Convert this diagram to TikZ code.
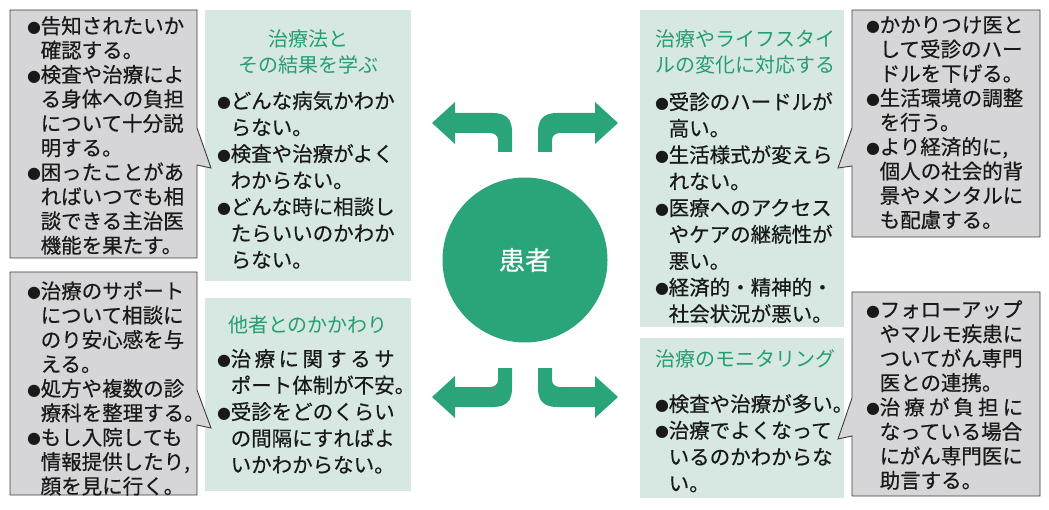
\documentclass[tikz,border=0pt]{standalone}
\usepackage{fontspec}
\newfontfamily\jpf{Noto Sans CJK JP}
\newfontfamily\jpb{Noto Sans CJK JP}[FakeBold=0.5]
\newfontfamily\symf{DejaVu Sans}
\definecolor{pgreen}{RGB}{42,165,122}
\definecolor{ttlgreen}{RGB}{36,158,110}
\definecolor{boxgreen}{RGB}{214,232,225}
\definecolor{boxgray}{RGB}{214,214,216}
\definecolor{edgegray}{RGB}{60,60,60}
\definecolor{txtblack}{RGB}{25,25,25}
\newcommand\bul{\makebox[13.5pt][l]{\raisebox{1.2pt}{\symf\fontsize{16}{16}\selectfont ●}}}
\newcommand\ind{\hphantom{\bul}}
\tikzset{
  greenbox/.style={fill=boxgreen, draw=none},
  graybox/.style={fill=boxgray, draw=edgegray, line width=0.9pt, line join=miter},
  bodytxt/.style={anchor=north west, inner sep=0pt, align=left, text=txtblack,
    font=\jpb\fontsize{20.5}{26.5}\selectfont},
  graytxt/.style={anchor=north west, inner sep=0pt, align=left, text=txtblack,
    font=\jpb\fontsize{20.5}{24.4}\selectfont},
  ttltxt/.style={inner sep=0pt, text=ttlgreen, font=\jpf\fontsize{20}{26}\selectfont},
  bentarrow/.style={fill=pgreen, draw=none}
}
\begin{document}
\begin{tikzpicture}[x=1pt,y=-1pt]
\useasboundingbox (0,0) rectangle (1049,510);
% green boxes
\fill[greenbox] (205,10) rectangle (411,281);
\fill[greenbox] (205,298) rectangle (411,491);
\fill[greenbox] (640,10) rectangle (844,327);
\fill[greenbox] (640,338) rectangle (844,498);
% gray callouts
\draw[graybox] (10,10) -- (197,10) -- (197,128) -- (211,168) -- (197,165) -- (197,258) -- (10,258) -- cycle;
\draw[graybox] (10,272) -- (197,272) -- (197,390) -- (211,428) -- (197,425) -- (197,495) -- (10,495) -- cycle;
\draw[graybox] (1040,10) -- (852,10) -- (852,128) -- (838,168) -- (852,166) -- (852,237) -- (1040,237) -- cycle;
\draw[graybox] (1040,292) -- (852,292) -- (852,398) -- (838,439) -- (852,436) -- (852,496) -- (1040,496) -- cycle;
% arrows
\foreach \sx/\sy in {1/1,-1/1,1/-1,-1/-1}{
  \begin{scope}[shift={(525,260)}, xscale=\sx, yscale=\sy]
    \fill[bentarrow] (-93,-137) -- (-70,-158) -- (-70,-147) -- (-32,-147)
      .. controls (-18,-147) and (-13,-140) .. (-13,-128) -- (-13,-108)
      -- (-27,-108) -- (-27,-120)
      .. controls (-27,-124) and (-30,-127) .. (-35,-127)
      -- (-70,-127) -- (-70,-116) -- cycle;
  \end{scope}
}
% patient
\node[circle, fill=pgreen, minimum size=165pt, inner sep=0pt, text=white,
  font=\jpb\fontsize{26}{30}\selectfont] (patient) at (525,260) {患者};
% titles
\node[ttltxt, anchor=north, align=center] (t1) at (308,29) {治療法と\\その結果を学ぶ};
\node[ttltxt, anchor=north] (t2) at (308,316) {他者とのかかわり};
\node[ttltxt, anchor=north west, align=left] (t3) at (655,29) {治療やライフスタイ\\ルの変化に対応する};
\node[ttltxt, anchor=north west] (t4) at (655,349) {治療のモニタリング};
% green bodies
\node[bodytxt] (b1) at (217,91) {\bul どんな病気かわか\\
\ind らない。\\
\bul 検査や治療がよく\\
\ind わからない。\\
\bul どんな時に相談し\\
\ind たらいいのかわか\\
\ind らない。};
\node[bodytxt] (b2) at (217,349) {\bul \makebox[8em][s]{治\hfil 療\hfil に\hfil 関\hfil す\hfil る\hfil サ}\\
\ind ポート体制が不安。\\
\bul 受診をどのくらい\\
\ind の間隔にすればよ\\
\ind いかわからない。};
\node[bodytxt] (b3) at (655,92) {\bul 受診のハードルが\\
\ind 高い。\\
\bul 生活様式が変えら\\
\ind れない。\\
\bul 医療へのアクセス\\
\ind やケアの継続性が\\
\ind 悪い。\\
\bul 経済的・精神的・\\
\ind 社会状況が悪い。};
\node[bodytxt] (b4) at (655,394) {\bul 検査や治療が多い。\\
\bul 治療でよくなって\\
\ind いるのかわからな\\
\ind い。};
% gray bodies
\node[graytxt] (g1) at (27,16) {\bul 告知されたいか\\
\ind 確認する。\\
\bul 検査や治療によ\\
\ind る身体への負担\\
\ind について十分説\\
\ind 明する。\\
\bul 困ったことがあ\\
\ind ればいつでも相\\
\ind 談できる主治医\\
\ind 機能を果たす。};
\node[graytxt] (g2) at (27,281) {\bul 治療のサポート\\
\ind について相談に\\
\ind のり安心感を与\\
\ind える。\\
\bul 処方や複数の診\\
\ind 療科を整理する。\\
\bul もし入院しても\\
\ind 情報提供したり,\\
\ind 顔を見に行く。};
\node[graytxt] (g3) at (866,16) {\bul かかりつけ医と\\
\ind して受診のハー\\
\ind ドルを下げる。\\
\bul 生活環境の調整\\
\ind を行う。\\
\bul より経済的に,\\
\ind 個人の社会的背\\
\ind 景やメンタルに\\
\ind も配慮する。};
\node[graytxt] (g4) at (866,300) {\bul フォローアップ\\
\ind やマルモ疾患に\\
\ind ついてがん専門\\
\ind 医との連携。\\
\bul \makebox[7em][s]{治\hfil 療\hfil が\hfil 負\hfil 担\hfil に}\\
\ind なっている場合\\
\ind にがん専門医に\\
\ind 助言する。};
\end{tikzpicture}
\end{document}
